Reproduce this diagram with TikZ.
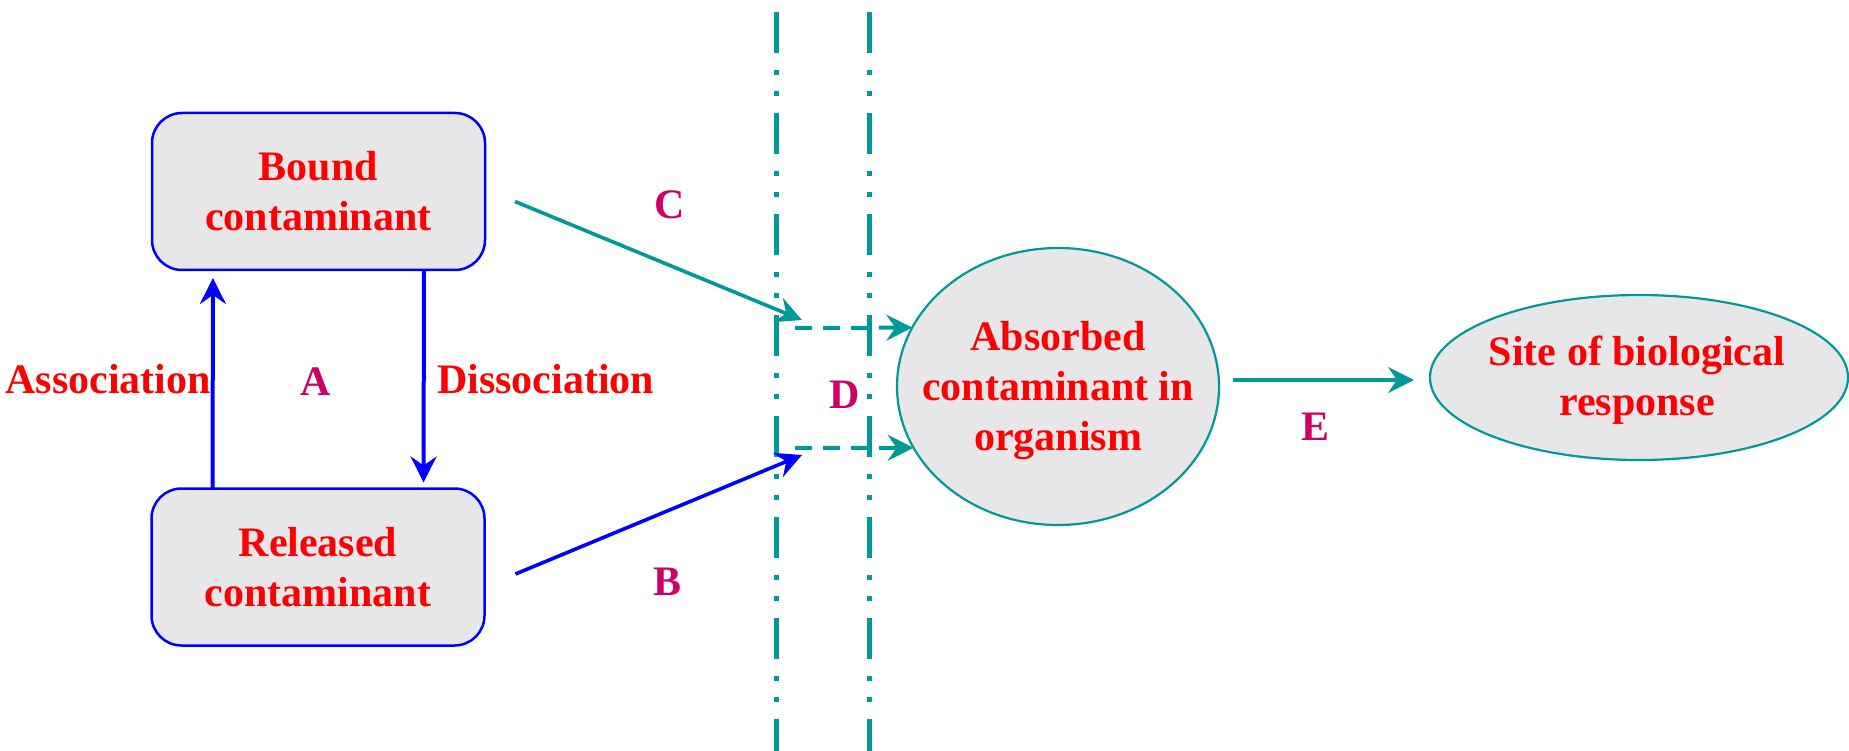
\documentclass[tikz,border=0pt]{standalone}
\usepackage{fontspec}
\setmainfont{Liberation Serif}
\usetikzlibrary{arrows.meta,shapes.geometric}
\definecolor{tealc}{RGB}{0,153,153}
\definecolor{lblc}{RGB}{204,0,102}
\definecolor{boxfill}{RGB}{231,231,234}
\definecolor{txtred}{RGB}{255,0,0}
\begin{document}
\begin{tikzpicture}[x=1pt,y=-1pt,
  tip/.style={-{Stealth[length=26pt,width=26pt,inset=9pt]}},
  big/.style={font=\fontsize{42}{50}\selectfont\bfseries},
  boxnode/.style={draw=blue, line width=2.5pt, fill=boxfill, rounded corners=30pt, minimum width=333pt, minimum height=157pt, inner sep=0pt, outer sep=0pt, text=txtred, align=center, big},
  ellnode/.style={ellipse, draw=tealc, line width=2.2pt, fill=boxfill, inner sep=0pt, outer sep=0pt},
  etext/.style={text=txtred, align=center, big, inner sep=0pt},
  lbl/.style={text=lblc, big, inner sep=0pt},
  redlbl/.style={text=txtred, big, inner sep=0pt},
  bluearr/.style={draw=blue, line width=4pt, tip},
  tealarr/.style={draw=tealc, line width=3.6pt, tip},
  dasharr/.style={draw=tealc, line width=4pt, tip, dash pattern=on 17pt off 11pt},
  vline/.style={draw=tealc, line width=5pt, dash pattern=on 41pt off 17pt on 5pt off 16pt on 5pt off 17pt}
]
\useasboundingbox (0,0) rectangle (1849,751);

% boundary lines
\draw[vline] (776,12) -- (776,760);
\draw[vline] (869,12) -- (869,760);

% nodes
\node[boxnode] (bound) at (318.5,191.5) {Bound\\contaminant};
\node[boxnode] (released) at (318,567) {Released\\contaminant};
\node[ellnode, minimum width=322pt, minimum height=277pt] (absorbed) at (1058,386.5) {};
\node[etext] (abstext) at (1058,390.5) {Absorbed\\contaminant in\\organism};
\node[ellnode, minimum width=418pt, minimum height=165pt] (site) at (1639,377.5) {};
\node[etext] (sitetext) at (1637,380) {Site of biological\\response};

% labels
\node[redlbl, anchor=base east] (assoc) at (211,393) {Association};
\node[redlbl, anchor=base west] (dissoc) at (437,393) {Dissociation};
\node[lbl, anchor=base] (la) at (316,395) {A};
\node[lbl, anchor=base] (lb) at (667,595) {B};
\node[lbl, anchor=base] (lc) at (670,219) {C};
\node[lbl, anchor=base] (ld) at (845,408) {D};
\node[lbl, anchor=base] (le) at (1315,440) {E};

% association / dissociation
\draw[bluearr, shorten >=8pt] ([xshift=61pt]released.north west) -- ([xshift=61pt]bound.south west);
\draw[bluearr, shorten >=6pt] ([xshift=-61pt]bound.south east) -- ([xshift=-61pt]released.north east);

% C and B
\coordinate (cs) at ([xshift=30pt,yshift=-10pt]bound.east);
\coordinate (ce) at (802,320);
\draw[tealarr] (cs) -- (ce);
\coordinate (bs) at ([xshift=31pt,yshift=-7pt]released.east);
\coordinate (be) at (802,455);
\draw[bluearr, line width=3.6pt] (bs) -- (be);

% D dashed arrows
\coordinate (d1) at (795,328);
\coordinate (d2) at (795,448);
\draw[dasharr] (d1) -- (absorbed.158);
\draw[dasharr] (d2) -- (absorbed.203);

% E
\draw[tealarr, line width=4pt, shorten <=14pt, shorten >=16pt] ([yshift=6.5pt]absorbed.east) -- ([yshift=-2.5pt]site.west);
\end{tikzpicture}
\end{document}
